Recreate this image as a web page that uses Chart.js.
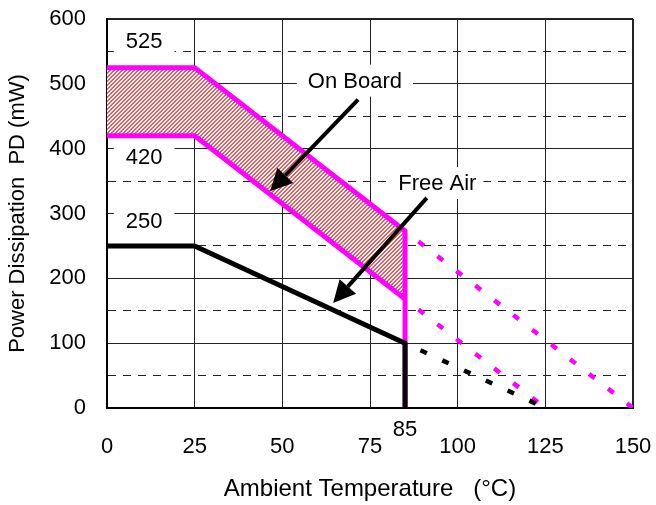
<!DOCTYPE html>
<html><head><meta charset="utf-8">
<script src="https://cdn.jsdelivr.net/npm/chart.js@4/dist/chart.umd.min.js"></script>
<style>html,body{margin:0;padding:0;background:#fff}#wrap{width:656px;height:505px}</style>
</head><body><div id="wrap"><canvas id="c" width="656" height="505"></canvas></div>
<script>
// ---- data ----
const kneeTemps = [0, 25, 85];
const onBoardUpper = [525, 525, 273];
const onBoardLower = [420, 420, 168];
const freeAir = [250, 250, 100];
const cutoffTemps = [85, 85];
const onBoardCutoff = [273, 0];
const freeAirCutoff = [100, 0];
const upperExtTemps = [85, 150];
const upperExt = [273, 0];
const lowerExtTemps = [85, 125];
const lowerExt = [168, 0];
const freeAirExtTemps = [85, 125];
const freeAirExt = [100, 0];
const xTicks = [0, 25, 50, 75, 85, 100, 125, 150];
const raisedXTick = 85;
const yTicks = [0, 50, 100, 150, 200, 250, 300, 350, 400, 450, 500, 550, 600];
const noteTexts = ['525', '420', '250', 'On Board', 'Free Air'];

// ---- annotation placement (data units) ----
const notePlaces = [
  {x: 10.6, y: 566, padX: 12},
  {x: 10.6, y: 388, padX: 12},
  {x: 10.6, y: 289, padX: 12},
  {x: 70.7, y: 505, padX: 11},
  {x: 94.2, y: 347, padX: 7}
];
const arrows = [
  {x1: 71.6, y1: 475.8, x2: 46.5, y2: 334.3},
  {x1: 91.2, y1: 324, x2: 64.5, y2: 162}
];

const FONT = '"Liberation Sans", Arial, sans-serif';
const PINK = '#ff00ff';
const pts = (xs, ys) => xs.map((v, i) => ({x: v, y: ys[i]}));

const canvas = document.getElementById('c');
const ctx = canvas.getContext('2d');

function hatch() {
  const c = document.createElement('canvas');
  c.width = 4; c.height = 4;
  const g = c.getContext('2d');
  g.fillStyle = '#ffffff'; g.fillRect(0, 0, 4, 4);
  g.fillStyle = '#f45858';
  for (let i = 0; i < 4; i++) { g.fillRect(i, 3 - i, 1, 1); g.fillRect(i, (4 - i) % 4, 1, 1); }
  return ctx.createPattern(c, 'repeat');
}

const annot = {
  id: 'annot',
  beforeDatasetsDraw(chart) {
    const {ctx, scales: {x, y}} = chart;
    ctx.save();
    ctx.font = '22px ' + FONT;
    ctx.textAlign = 'center';
    ctx.textBaseline = 'middle';
    noteTexts.forEach((t, i) => {
      const p = notePlaces[i];
      const px = x.getPixelForValue(p.x), py = y.getPixelForValue(p.y);
      const w = ctx.measureText(t).width + 2 * p.padX;
      ctx.fillStyle = '#fff';
      ctx.fillRect(px - w / 2, py - 16, w, 32);
      ctx.fillStyle = '#000';
      ctx.fillText(t, px, py + 1);
    });
    ctx.restore();
  },
  afterDatasetsDraw(chart) {
    const {ctx, scales: {x, y}} = chart;
    ctx.save();
    ctx.strokeStyle = '#000';
    ctx.fillStyle = '#000';
    ctx.lineWidth = 4;
    arrows.forEach(a => {
      const x1 = x.getPixelForValue(a.x1), y1 = y.getPixelForValue(a.y1);
      const x2 = x.getPixelForValue(a.x2), y2 = y.getPixelForValue(a.y2);
      const ang = Math.atan2(y2 - y1, x2 - x1);
      const hl = 22, hw = 11;
      const bx = x2 - hl * Math.cos(ang), by = y2 - hl * Math.sin(ang);
      ctx.beginPath();
      ctx.moveTo(x1, y1);
      ctx.lineTo(bx, by);
      ctx.stroke();
      ctx.beginPath();
      ctx.moveTo(x2, y2);
      ctx.lineTo(bx + hw * Math.sin(ang), by - hw * Math.cos(ang));
      ctx.lineTo(bx - hw * Math.sin(ang), by + hw * Math.cos(ang));
      ctx.closePath();
      ctx.fill();
    });
    ctx.restore();
  }
};

const solid = (color, order) => ({borderColor: color, borderWidth: 5, pointRadius: 0, fill: false,
  borderJoinStyle: 'round', borderCapStyle: 'butt', tension: 0, order});
const dotted = (color, order) => ({borderColor: color, borderWidth: 4.5, pointRadius: 0, fill: false,
  borderDash: [7, 17], borderDashOffset: 7, tension: 0, order});

new Chart(ctx, {
  type: 'line',
  data: {
    datasets: [
      Object.assign({data: pts(kneeTemps, onBoardUpper)}, solid(PINK, 2), {fill: '+1', backgroundColor: hatch()}),
      Object.assign({data: pts(kneeTemps, onBoardLower)}, solid(PINK, 2)),
      Object.assign({data: pts(cutoffTemps, onBoardCutoff)}, solid(PINK, 2)),
      Object.assign({data: pts(upperExtTemps, upperExt)}, dotted(PINK, 2)),
      Object.assign({data: pts(lowerExtTemps, lowerExt)}, dotted(PINK, 2)),
      Object.assign({data: pts(freeAirExtTemps, freeAirExt)}, dotted('#000', 1)),
      Object.assign({data: pts(kneeTemps, freeAir)}, solid('#000', 1)),
      Object.assign({data: pts(cutoffTemps, freeAirCutoff)}, solid('#000', 1))
    ]
  },
  options: {
    responsive: false,
    animation: false,
    devicePixelRatio: 1,
    layout: {autoPadding: false, padding: {left: 0, right: 23, top: 19, bottom: 0}},
    plugins: {legend: {display: false}, tooltip: {enabled: false}, filler: {drawTime: 'beforeDatasetsDraw'}},
    scales: {
      x: {
        type: 'linear', min: 0, max: 150,
        afterBuildTicks: s => { s.ticks = xTicks.map(v => ({value: v})); },
        afterFit: s => { s.height = 97; s.paddingLeft = 0; s.paddingRight = 0; },
        ticks: {
          padding: 14, color: '#000', maxRotation: 0, autoSkip: false,
          font: {size: 22, family: FONT, lineHeight: 0.76},
          callback: v => v === raisedXTick ? [String(v), ''] : ['', String(v)]
        },
        grid: {
          drawTicks: false,
          color: c => (c.tick && c.tick.value === raisedXTick) ? 'rgba(0,0,0,0)' : '#222',
          lineWidth: c => (c.tick && c.tick.value === 150) ? 2 : 1
        },
        border: {color: '#000', width: 2},
        title: {display: true, text: 'Ambient Temperature   (°C)', color: '#000',
          font: {size: 24, family: FONT}, padding: {top: 0, bottom: 1}}
      },
      y: {
        min: 0, max: 600,
        afterBuildTicks: s => { s.ticks = yTicks.map(v => ({value: v})); },
        afterFit: s => { s.width = 107; s.paddingTop = 0; s.paddingBottom = 0; },
        ticks: {
          padding: 21, color: '#000', autoSkip: false,
          font: {size: 22, family: FONT},
          callback: v => (v % 100 === 0) ? String(v) : ''
        },
        grid: {
          drawTicks: false, color: '#222',
          lineWidth: c => (c.tick && c.tick.value === 600) ? 2 : 1
        },
        border: {color: '#000', width: 2,
          dash: c => (c.tick && c.tick.value % 100 !== 0) ? [8, 7] : []},
        title: {display: true, text: 'Power Dissipation  PD (mW)', color: '#000',
          font: {size: 22, family: FONT}, padding: {top: 5, bottom: 0}}
      }
    }
  },
  plugins: [annot]
});
</script>
</body></html>
